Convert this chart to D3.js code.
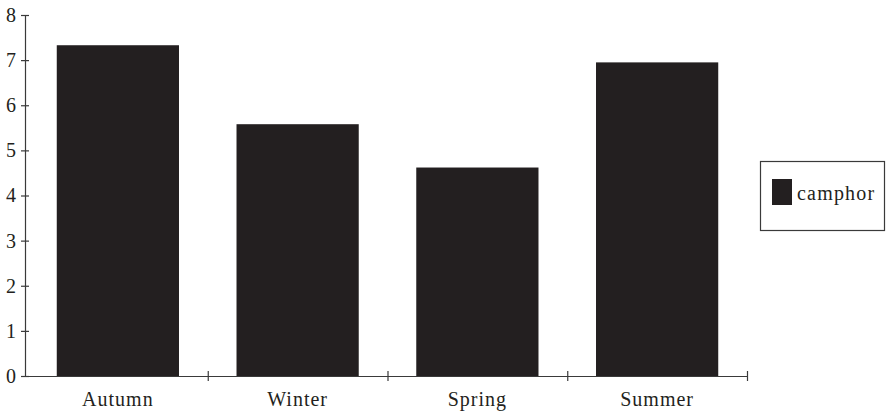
<!DOCTYPE html>
<html>
<head>
<meta charset="utf-8">
<script src="https://cdn.jsdelivr.net/npm/d3@7"></script>
<style>
  html, body { margin: 0; padding: 0; background: #fff; }
  svg { display: block; }
  text { font-family: "Liberation Serif", "Times New Roman", serif; fill: #231f20; }
</style>
</head>
<body>
<svg id="chart" width="888" height="413"></svg>
<script>
const categories = ["Autumn", "Winter", "Spring", "Summer"];
const camphor = [7.33, 5.58, 4.62, 6.95];
const yTicks = [0, 1, 2, 3, 4, 5, 6, 7, 8];
const seriesName = "camphor";

(function () {
const svg = d3.select("#chart");
const ink = "#231f20";
const axisCol = "#3a3a3a";
const mLeft = 25, bandLeft = 28, mRight = 747, mTop = 15, mBottom = 376;

const x = d3.scaleBand().domain(categories).range([bandLeft, mRight])
  .paddingInner(0.32).paddingOuter(0.16);
const xb = d3.scaleLinear().domain([0, categories.length]).range([bandLeft, mRight]);
const y = d3.scaleLinear().domain([0, 8]).range([mBottom, mTop]);

// bars
svg.append("g").selectAll("rect").data(categories).join("rect")
  .attr("x", d => x(d))
  .attr("width", x.bandwidth())
  .attr("y", (d, i) => y(camphor[i]))
  .attr("height", (d, i) => y(0) - y(camphor[i]))
  .attr("fill", ink);

// y axis
const ya = svg.append("g").attr("transform", `translate(${mLeft},0)`)
  .call(d3.axisLeft(y).tickValues(yTicks).tickFormat(d3.format("d")).tickSize(4).tickPadding(5));
ya.select(".domain").attr("stroke", axisCol).attr("stroke-width", 1.2);
ya.selectAll(".tick line").attr("x1", 4).attr("stroke", axisCol).attr("stroke-width", 1.2);
ya.selectAll(".tick text").attr("font-size", 20).style("font-family", "Liberation Serif, serif").attr("fill", ink);

// x axis: boundary ticks
const xa = svg.append("g").attr("transform", `translate(0,${mBottom})`)
  .call(d3.axisBottom(xb).tickValues([1, 2, 3, 4]).tickSize(5).tickFormat(""));
xa.select(".domain").remove();
xa.append("line").attr("x1", mLeft).attr("x2", xb(categories.length)).attr("y1", 0.5).attr("y2", 0.5)
  .attr("stroke", axisCol).attr("stroke-width", 1.2);
xa.selectAll(".tick line").attr("y1", -5).attr("stroke", axisCol).attr("stroke-width", 1.2);

// x labels
const xl = svg.append("g").attr("transform", `translate(0,${mBottom})`)
  .call(d3.axisBottom(x).tickSize(0).tickPadding(16));
xl.select(".domain").remove();
xl.selectAll(".tick text").attr("font-size", 20).attr("letter-spacing", 1)
  .style("font-family", "Liberation Serif, serif").attr("fill", ink);

// legend
const lg = svg.append("g");
lg.append("rect").attr("x", 760.5).attr("y", 161.5).attr("width", 124).attr("height", 69)
  .attr("fill", "#fff").attr("stroke", axisCol).attr("stroke-width", 1.2);
lg.append("rect").attr("x", 772).attr("y", 179).attr("width", 20).attr("height", 26).attr("fill", ink);
lg.append("text").attr("x", 797).attr("y", 200).attr("font-size", 20).attr("letter-spacing", 1.2)
  .text(seriesName);
})();
</script>
</body>
</html>
